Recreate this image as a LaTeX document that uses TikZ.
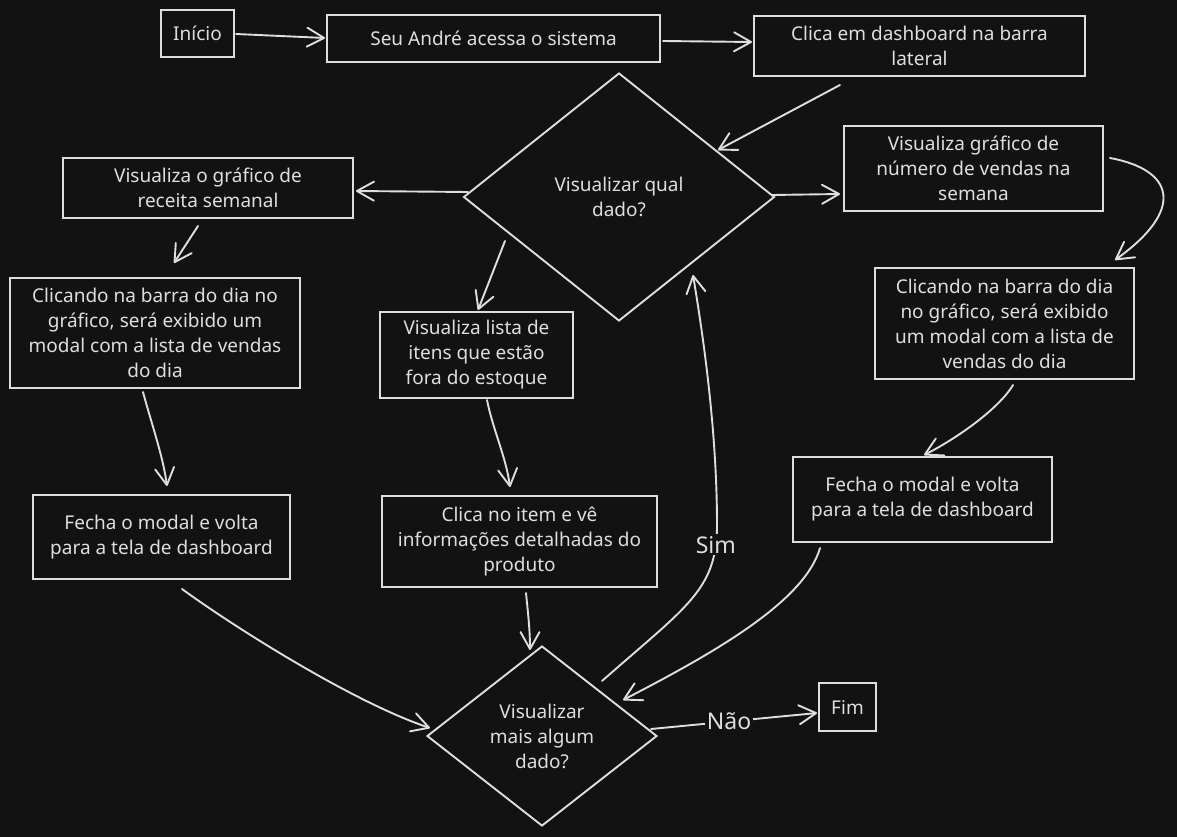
\documentclass[tikz,border=0pt]{standalone}
\usepackage{fontspec}
\setmainfont{Noto Sans}
\usetikzlibrary{arrows.meta,shapes.geometric,calc}
\definecolor{bg}{HTML}{121212}
\definecolor{fg}{HTML}{DEDEDE}
\begin{document}
\begin{tikzpicture}[x=1pt,y=-1pt,
  box/.style={draw=fg, line width=1.9pt, align=center, inner sep=0pt, text=fg,
    font=\fontsize{19}{25}\selectfont},
  dia/.style={diamond, draw=fg, line width=1.9pt, align=center, inner sep=0pt, text=fg,
    font=\fontsize{19}{25}\selectfont},
  arr/.style={draw=fg, line width=1.9pt, line cap=round,
    -{Straight Barb[length=17pt,width=19pt,line cap=round,line join=round]}},
  lab/.style={fill=bg, text=fg, inner sep=2pt, font=\fontsize{23}{25}\selectfont}
]
\fill[bg] (0,0) rectangle (1177,837);
\useasboundingbox (0,0) rectangle (1177,837);

% nodes
\node[box, minimum width=73pt, minimum height=47pt] (inicio) at (197.5,33.5) {Início};
\node[box, minimum width=333pt, minimum height=47pt] (seu) at (493.5,38.5) {Seu André acessa o sistema};
\node[box, minimum width=331pt, minimum height=60pt] (clica) at (919.5,46) {Clica em dashboard na barra\\lateral};
\node[dia, minimum width=311pt, minimum height=248pt] (d1) at (619,197) {Visualizar qual\\dado?};
\node[box, minimum width=290pt, minimum height=60pt] (receita) at (208,188) {Visualiza o gráfico de\\receita semanal};
\node[box, minimum width=259pt, minimum height=85pt] (vendas) at (973.5,168.5) {Visualiza gráfico de\\número de vendas na\\semana};
\node[box, minimum width=290pt, minimum height=110pt] (clicL) at (155,333) {Clicando na barra do dia no\\gráfico, será exibido um\\modal com a lista de vendas\\do dia};
\node[box, minimum width=193pt, minimum height=86pt] (lista) at (476.5,355) {Visualiza lista de\\itens que estão\\fora do estoque};
\node[box, minimum width=259pt, minimum height=111pt] (clicR) at (1004.5,323.5) {Clicando na barra do dia\\no gráfico, será exibido\\um modal com a lista de\\vendas do dia};
\node[box, minimum width=257pt, minimum height=84pt] (fechaL) at (161.5,537) {Fecha o modal e volta\\para a tela de dashboard};
\node[box, minimum width=275pt, minimum height=91pt] (item) at (519.5,541.5) {Clica no item e vê\\informações detalhadas do\\produto};
\node[box, minimum width=259pt, minimum height=85pt] (fechaR) at (922.5,499.5) {Fecha o modal e volta\\para a tela de dashboard};
\node[dia, minimum width=230pt, minimum height=180pt] (d2) at (542,736) {Visualizar\\mais algum\\dado?};
\node[box, minimum width=57pt, minimum height=48pt] (fim) at (847.5,707) {Fim};

% connectors
\draw[arr] ($(inicio)+(38.5,0.5)$) -- ($(seu)+(-168.5,-0.5)$);
\draw[arr] ($(seu)+(169.5,2.5)$) -- ($(clica)+(-167.5,-4)$);
\draw[arr] ($(clica)+(-79.5,39)$) -- ($(d1)+(99,-47)$);
\draw[arr] ($(d1)+(-151,-5)$) -- ($(receita)+(148,3)$);
\draw[arr] ($(d1)+(153,-2)$) -- ($(vendas)+(-133.5,25.5)$);
\draw[arr] ($(d1)+(-114,44)$) -- ($(lista)+(1.5,-45)$);
\draw[arr] ($(receita)+(-10,38)$) -- ($(clicL)+(19,-70)$);
\draw[arr] ($(vendas)+(136.5,-10.5)$) .. controls +(65,12) and +(70,-50) .. ($(clicR)+(110.5,-63.5)$);
\draw[arr] ($(clicL)+(-12,59)$) .. controls +(8,30) and +(-4,-30) .. ($(fechaL)+(5.5,-51)$);
\draw[arr] ($(lista)+(10.5,45)$) .. controls +(6,30) and +(-4,-30) .. ($(item)+(-9.5,-54.5)$);
\draw[arr] ($(clicR)+(8.5,61.5)$) .. controls +(-15,25) and +(30,-15) .. ($(fechaR)+(1.5,-44.5)$);
\draw[arr] ($(fechaL)+(20.5,52)$) .. controls +(55,40) and +(-75,-25) .. ($(d2)+(-112,-8)$);
\draw[arr] ($(item)+(6.5,51.5)$) .. controls +(2,20) and +(0,-20) .. ($(d2)+(-12,-86)$);
\draw[arr] ($(fechaR)+(-102.5,48.5)$) .. controls +(-15,52) and +(97,-50) .. ($(d2)+(81,-36)$);
\draw[arr] ($(d2)+(60,-55)$) .. controls +(85,-75) and +(0,65) .. (717,525)
  node[lab, pos=0.89] {Sim}
  .. controls +(0,-95) and +(10,60) .. ($(d1)+(74,78)$);
\draw[arr] ($(d2)+(109,-7)$) -- node[lab, pos=0.47] {Não} ($(fim)+(-30.5,6)$);
\end{tikzpicture}
\end{document}
